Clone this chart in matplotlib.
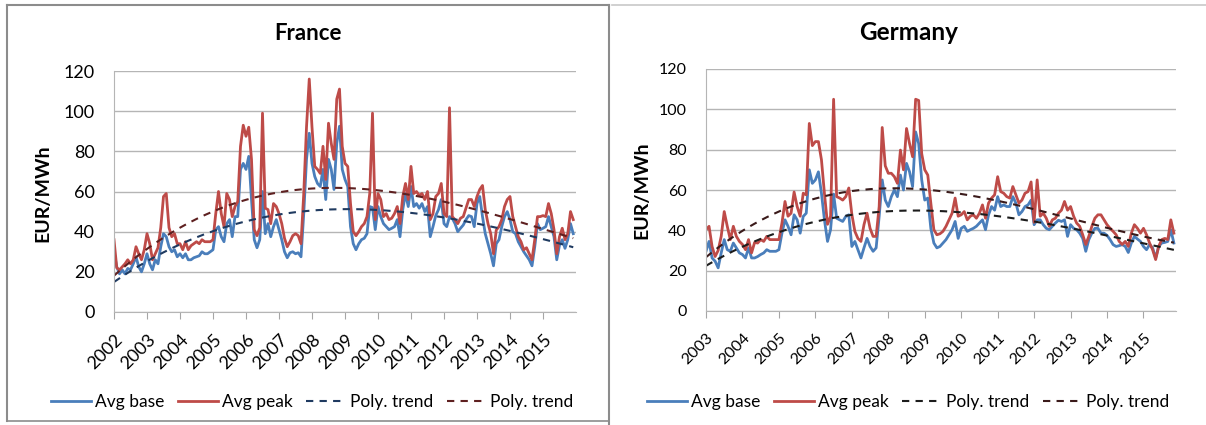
import numpy as np
import matplotlib
matplotlib.use("Agg")
import matplotlib.pyplot as plt
from matplotlib.lines import Line2D

plt.rcParams['font.family'] = ['Lato', 'DejaVu Sans']

# monthly averages, EUR/MWh
fr_base = [30, 22.5, 19, 21, 19, 21.7, 21, 24, 27.5, 22.5, 20, 24,
           29, 24, 21, 26, 24, 32.5, 39, 37.5, 32.5, 30, 31, 27.5,
           29, 27, 29, 26, 26, 27, 27.5, 28, 30, 29, 29, 30,
           31, 41, 42.5, 37.5, 35, 44, 46, 37.5, 47.5, 47.5, 71, 74,
           71, 77.5, 56, 36, 32, 36, 60, 39, 44, 37.5, 42.5, 46,
           41, 36, 30, 27, 29.5, 30, 29, 29.5, 27.5, 49, 76, 89,
           74, 67.5, 64, 62.5, 71, 56, 76, 71, 61, 84, 92.5, 71,
           66, 62.5, 42.5, 34, 31, 34, 36, 36.7, 39, 52.5, 52, 41,
           52.5, 47.5, 44, 42.5, 41, 41.7, 42.5, 46, 37.5, 51, 59, 52.5,
           62.5, 52.5, 54, 51.7, 54, 50, 52.5, 37.5, 42.5, 48, 51, 56,
           44, 42.5, 47.5, 46.7, 44, 40, 41.7, 43.3, 46, 48, 47.5, 42.5,
           54, 57.5, 47.5, 39, 34, 29, 23, 34, 36, 42.5, 47.5, 50,
           46, 40, 39, 35, 32.5, 30, 28, 26, 23, 32.5, 44, 41,
           41.7, 42.5, 47.5, 42.5, 37.5, 26, 33.3, 36, 31.7, 36, 44, 39]
fr_peak = [36, 22, 21, 22.5, 24, 26, 24, 26, 32.5, 29, 26, 31,
           39, 34, 26, 29, 32, 42, 57.5, 59, 42, 37.5, 39, 34,
           34, 31, 35, 31, 33, 34, 35, 34, 36, 35, 35, 35,
           36, 49, 60, 49, 42.5, 59, 56, 47.5, 52.5, 55, 82.5, 93,
           87.5, 92, 76, 41, 38, 42, 99, 51.7, 51, 44, 54, 52.5,
           49, 44, 36.7, 32.5, 35, 38, 39, 38, 34, 59, 92, 116,
           92, 72.5, 71, 69, 82.5, 66, 94, 84, 76, 106, 111, 82.5,
           74, 72.5, 54, 40, 38, 40, 42.5, 44, 47.5, 59, 99, 46,
           59, 56, 47.5, 49, 46, 46.7, 49, 52.5, 44, 57.5, 64, 56,
           72.5, 59, 60, 58, 59, 56, 60, 46, 49, 57.5, 59, 64,
           49, 47.5, 101.7, 47.5, 46, 44, 46.7, 47.5, 51.7, 56, 56, 52.5,
           57.5, 61, 63, 51, 44, 39, 29, 40.8, 42.5, 46, 52.5, 56,
           57.5, 47.5, 42.5, 37.5, 35, 31, 32, 29, 26, 36, 47.5, 47.5,
           48, 47.5, 54, 49, 41, 29, 37.5, 41.7, 36, 39, 50, 46]

de_base = [29.6, 34.5, 26.3, 24.7, 21.4, 28.8, 35.4, 30.4, 29.6, 33.7, 31.3, 28.8,
           28, 26.3, 31.3, 26.3, 26.3, 27, 28, 28.8, 30.4, 29.6, 29.6, 29.6,
           30.4, 38.6, 45.2, 42, 37.8, 47.7, 45.2, 38.6, 46.9, 48.5, 70, 63.3,
           65, 69, 58.4, 45, 34.5, 40.3, 58, 46, 45.2, 44.4, 46.9, 47.7,
           32, 34.5, 30.4, 26.3, 31.3, 36, 32, 29.6, 31.3, 47, 65, 55,
           51.8, 56.7, 60, 56.7, 67.4, 60, 73.2, 69, 61.7, 88.8, 83, 65,
           55, 56, 41, 33.7, 31.3, 32, 33.7, 35.4, 37.8, 40.3, 44.4, 36,
           41, 42, 39.5, 40.3, 41, 42, 43.6, 45.2, 40.3, 47.7, 51.8, 50,
           56.7, 51.8, 52.6, 51.8, 51.8, 56.7, 53.5, 47.7, 49.3, 51.8, 52.6, 55,
           42.8, 45.2, 45.2, 42.8, 41, 40.3, 42, 43.6, 45, 44.4, 45.2, 37,
           42.8, 41, 40.3, 38.6, 36, 29.6, 35.4, 38.6, 41, 41, 38.6, 38.6,
           37.5, 35.4, 32.9, 32, 32.4, 32.9, 32, 29, 33.7, 37, 35.7, 34.5,
           32, 30.4, 32.9, 31.3, 26.3, 32, 33.7, 34, 34.5, 40.3, 33.7]
de_peak = [40.3, 42, 32, 27, 30, 37, 49.3, 42, 35.4, 42, 37, 34.5,
           33, 30.4, 35.4, 28.8, 34, 33.7, 35.4, 34.5, 37, 35.4, 35.4, 35.4,
           35.4, 43.6, 54.3, 47, 48.5, 59, 51.8, 47, 58.4, 57.6, 93, 82,
           84, 84, 75, 58, 43, 47, 105, 56.7, 56, 55, 56.7, 61,
           48, 39.5, 36, 34.5, 42.8, 48.5, 41, 37, 37, 51.8, 91, 72,
           68.3, 68.3, 66.6, 63.3, 79.8, 70, 90.5, 83, 76.5, 105, 104.4, 78,
           70, 67.4, 53.5, 40.3, 37.8, 38.3, 39.5, 42, 45.2, 48.5, 56, 47,
           47.7, 49.3, 45.2, 47, 47.7, 46, 48.5, 52.6, 46, 53.5, 56, 57.6,
           66.6, 59.2, 58.4, 56.7, 56, 61.7, 57.6, 53.5, 55, 58.4, 59.2, 64,
           44, 65, 47, 48.5, 46, 42, 45.2, 46, 48.5, 50, 54.3, 50,
           51.8, 47, 43.6, 42, 37.8, 33, 37, 42, 46, 47.7, 47.7, 45.2,
           42.8, 41, 39.5, 37.8, 34.5, 33, 34.5, 32, 38.6, 42.8, 41, 38.6,
           41, 37.8, 33.7, 30.4, 25.5, 32, 35.4, 36, 35.4, 45.2, 38.6]

fr_years = list(range(2002, 2016))
de_years = list(range(2003, 2016))

BASE = '#4a7ebb'
PEAK = '#be4b48'

W, H = 1206.0, 425.0


def panel(ax, start, base, peak, years, x_end, tr_cols, fs):
    x = start + np.arange(len(base)) / 12.0
    ax.plot(x, base, color=BASE, lw=2.0, label='Avg base')
    ax.plot(x, peak, color=PEAK, lw=2.0, label='Avg peak')
    t = np.arange(len(base))
    fb = np.polyval(np.polyfit(t, base, 3), t)
    fp = np.polyval(np.polyfit(t, peak, 3), t)
    ax.plot(x, fb, color=tr_cols[0], lw=1.5, ls=(0, (3.5, 3)), label='Poly. trend')
    ax.plot(x, fp, color=tr_cols[1], lw=1.5, ls=(0, (3.5, 3)), label='Poly. trend')

    ax.set_xlim(start, x_end)
    ax.set_ylim(0, 120)
    ax.set_yticks(range(0, 121, 20))
    ax.set_xticks(years)
    ax.set_xticklabels([str(y) for y in years], rotation=45, ha='right',
                       rotation_mode='anchor', fontsize=fs)
    ax.tick_params(axis='y', length=0, labelsize=fs, pad=14)
    ax.tick_params(axis='x', length=5, color='#a6a6a6', pad=9)
    ax.grid(axis='y', color='#b5b5b5', lw=1)
    ax.set_axisbelow(True)
    for s in ['top', 'right']:
        ax.spines[s].set_visible(False)
    ax.spines['left'].set_color('#b5b5b5')
    ax.spines['bottom'].set_color('#b5b5b5')
    ax.legend(loc='center', bbox_to_anchor=((ax.get_position().x0 + ax.get_position().x1) / 2
                                            - 0.027, 0.054),
              bbox_transform=fig.transFigure, ncol=4, frameon=False, fontsize=12.5,
              handlelength=2.3, columnspacing=0.8, handletextpad=0.2)


fig = plt.figure(figsize=(12.06, 4.25), dpi=100)

ax1 = fig.add_axes([114 / W, 1 - 312 / H, 462 / W, 241 / H])
panel(ax1, 2002, fr_base, fr_peak, fr_years, 2016, ('#1f3a60', '#5e2020'), 13)
fig.text(308 / W, 1 - 33 / H, 'France', ha='center', va='center',
         fontsize=16, fontweight='bold')
fig.text(43 / W, 1 - 193 / H, 'EUR/MWh', ha='center', va='center', rotation=90,
         fontsize=14, fontweight='bold')

ax2 = fig.add_axes([706 / W, 1 - 311 / H, 470 / W, 242 / H])
panel(ax2, 2003, de_base, de_peak, de_years, 2003 + 154.7 / 12,
      ('#1c1c1c', '#3a1a1a'), 11.5)
fig.text(909 / W, 1 - 32 / H, 'Germany', ha='center', va='center',
         fontsize=17.5, fontweight='bold')
fig.text(642 / W, 1 - 190 / H, 'EUR/MWh', ha='center', va='center', rotation=90,
         fontsize=14, fontweight='bold')

# panel frames
def seg(x0, y0, x1, y1, c, lw):
    fig.add_artist(Line2D([x0 / W, x1 / W], [1 - y0 / H, 1 - y1 / H], color=c, lw=lw))

seg(7, 5, 609, 5, '#8c8c8c', 1.5)
seg(7, 5, 7, 421, '#8c8c8c', 1.5)
seg(7, 421, 609, 421, '#8c8c8c', 1.2)
seg(609, 5, 609, 425, '#8c8c8c', 1.5)
seg(612, 5, 1206, 5, '#c8c8c8', 1.2)

fig.savefig('out.png', dpi=100)
